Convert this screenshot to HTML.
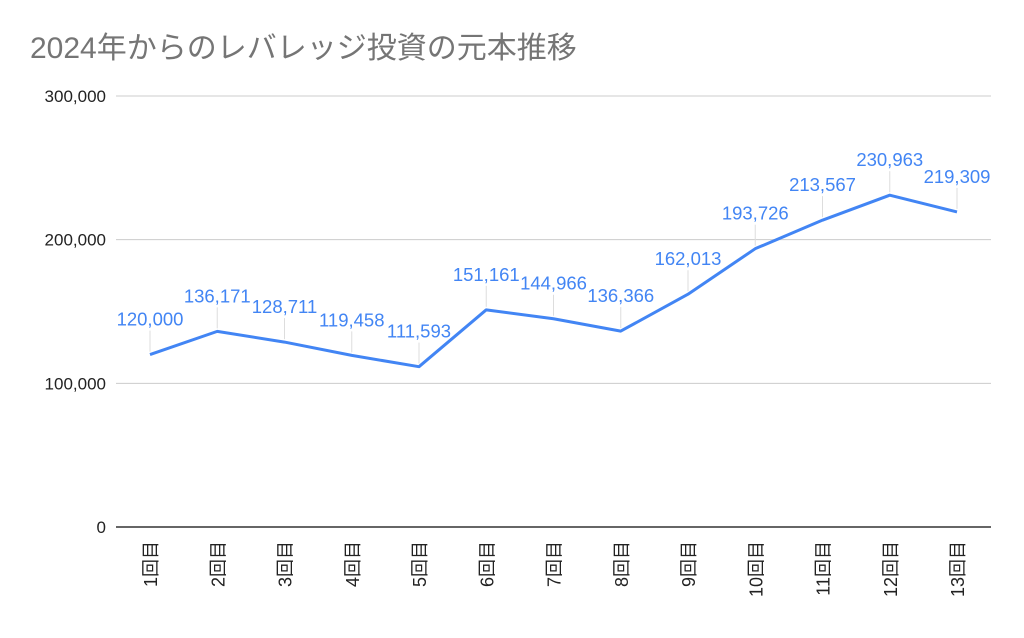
<!DOCTYPE html>
<html><head><meta charset="utf-8"><style>
body{margin:0;background:#fff;font-family:"Liberation Sans","Noto Sans CJK JP",sans-serif}
</style></head><body>
<svg width="1024" height="633" font-family="Liberation Sans, Noto Sans CJK JP, sans-serif">
<text x="30" y="58" font-size="30" fill="#757575">2024年からのレバレッジ投資の元本推移</text>
<g id="grid"></g><g id="lead"></g><g id="series"></g><g id="labels"></g><g id="xl"></g>
</svg>
<script>
const categories=["1回目","2回目","3回目","4回目","5回目","6回目","7回目","8回目","9回目","10回目","11回目","12回目","13回目"];
const values=[120000,136171,128711,119458,111593,151161,144966,136366,162013,193726,213567,230963,219309];
const yTicks=[0,100000,200000,300000];
const yTickLabels=["0","100,000","200,000","300,000"];
const NS="http://www.w3.org/2000/svg";
const x0=150,x1=957,yb=527,yt=96,ymax=300000;
const X=i=>x0+(x1-x0)*i/(categories.length-1);
const Y=v=>yb-(yb-yt)*v/ymax;
function mk(t,a,p){const e=document.createElementNS(NS,t);for(const k in a)e.setAttribute(k,a[k]);document.getElementById(p).appendChild(e);return e;}
yTicks.forEach((v,i)=>{
 const l=mk('line',{x1:116,x2:991,y1:Y(v),y2:Y(v),stroke:v===0?'#333':'#ccc','stroke-width':v===0?1.5:1},'grid');
 
 
 const t=mk('text',{x:106,y:Y(v)+6,'text-anchor':'end','font-size':17,fill:'#222'},'grid');
 t.textContent=yTickLabels[i];
 
 
});
const pts=values.map((v,i)=>X(i)+','+Y(v)).join(' ');
const pl=mk('polyline',{points:pts,fill:'none',stroke:'#4285f4','stroke-width':3,'stroke-linejoin':'round'},'series');


values.forEach((v,i)=>{
 const x=X(i),y=Y(v);
 const ld=mk('line',{x1:x,x2:x,y1:y-3,y2:y-24,stroke:'#ddd','stroke-width':1},'lead');
 
 
 const t=mk('text',{x:x,y:y-29,'text-anchor':'middle','font-size':18.5,fill:'#4285f4'},'labels');
 t.textContent=v.toLocaleString('en-US');
 
 
 const c=mk('text',{transform:`translate(${x+7},541) rotate(-90)`,'text-anchor':'end','font-size':18,fill:'#222'},'xl');
 c.textContent=categories[i];
 
 
});
</script>
</body></html>
